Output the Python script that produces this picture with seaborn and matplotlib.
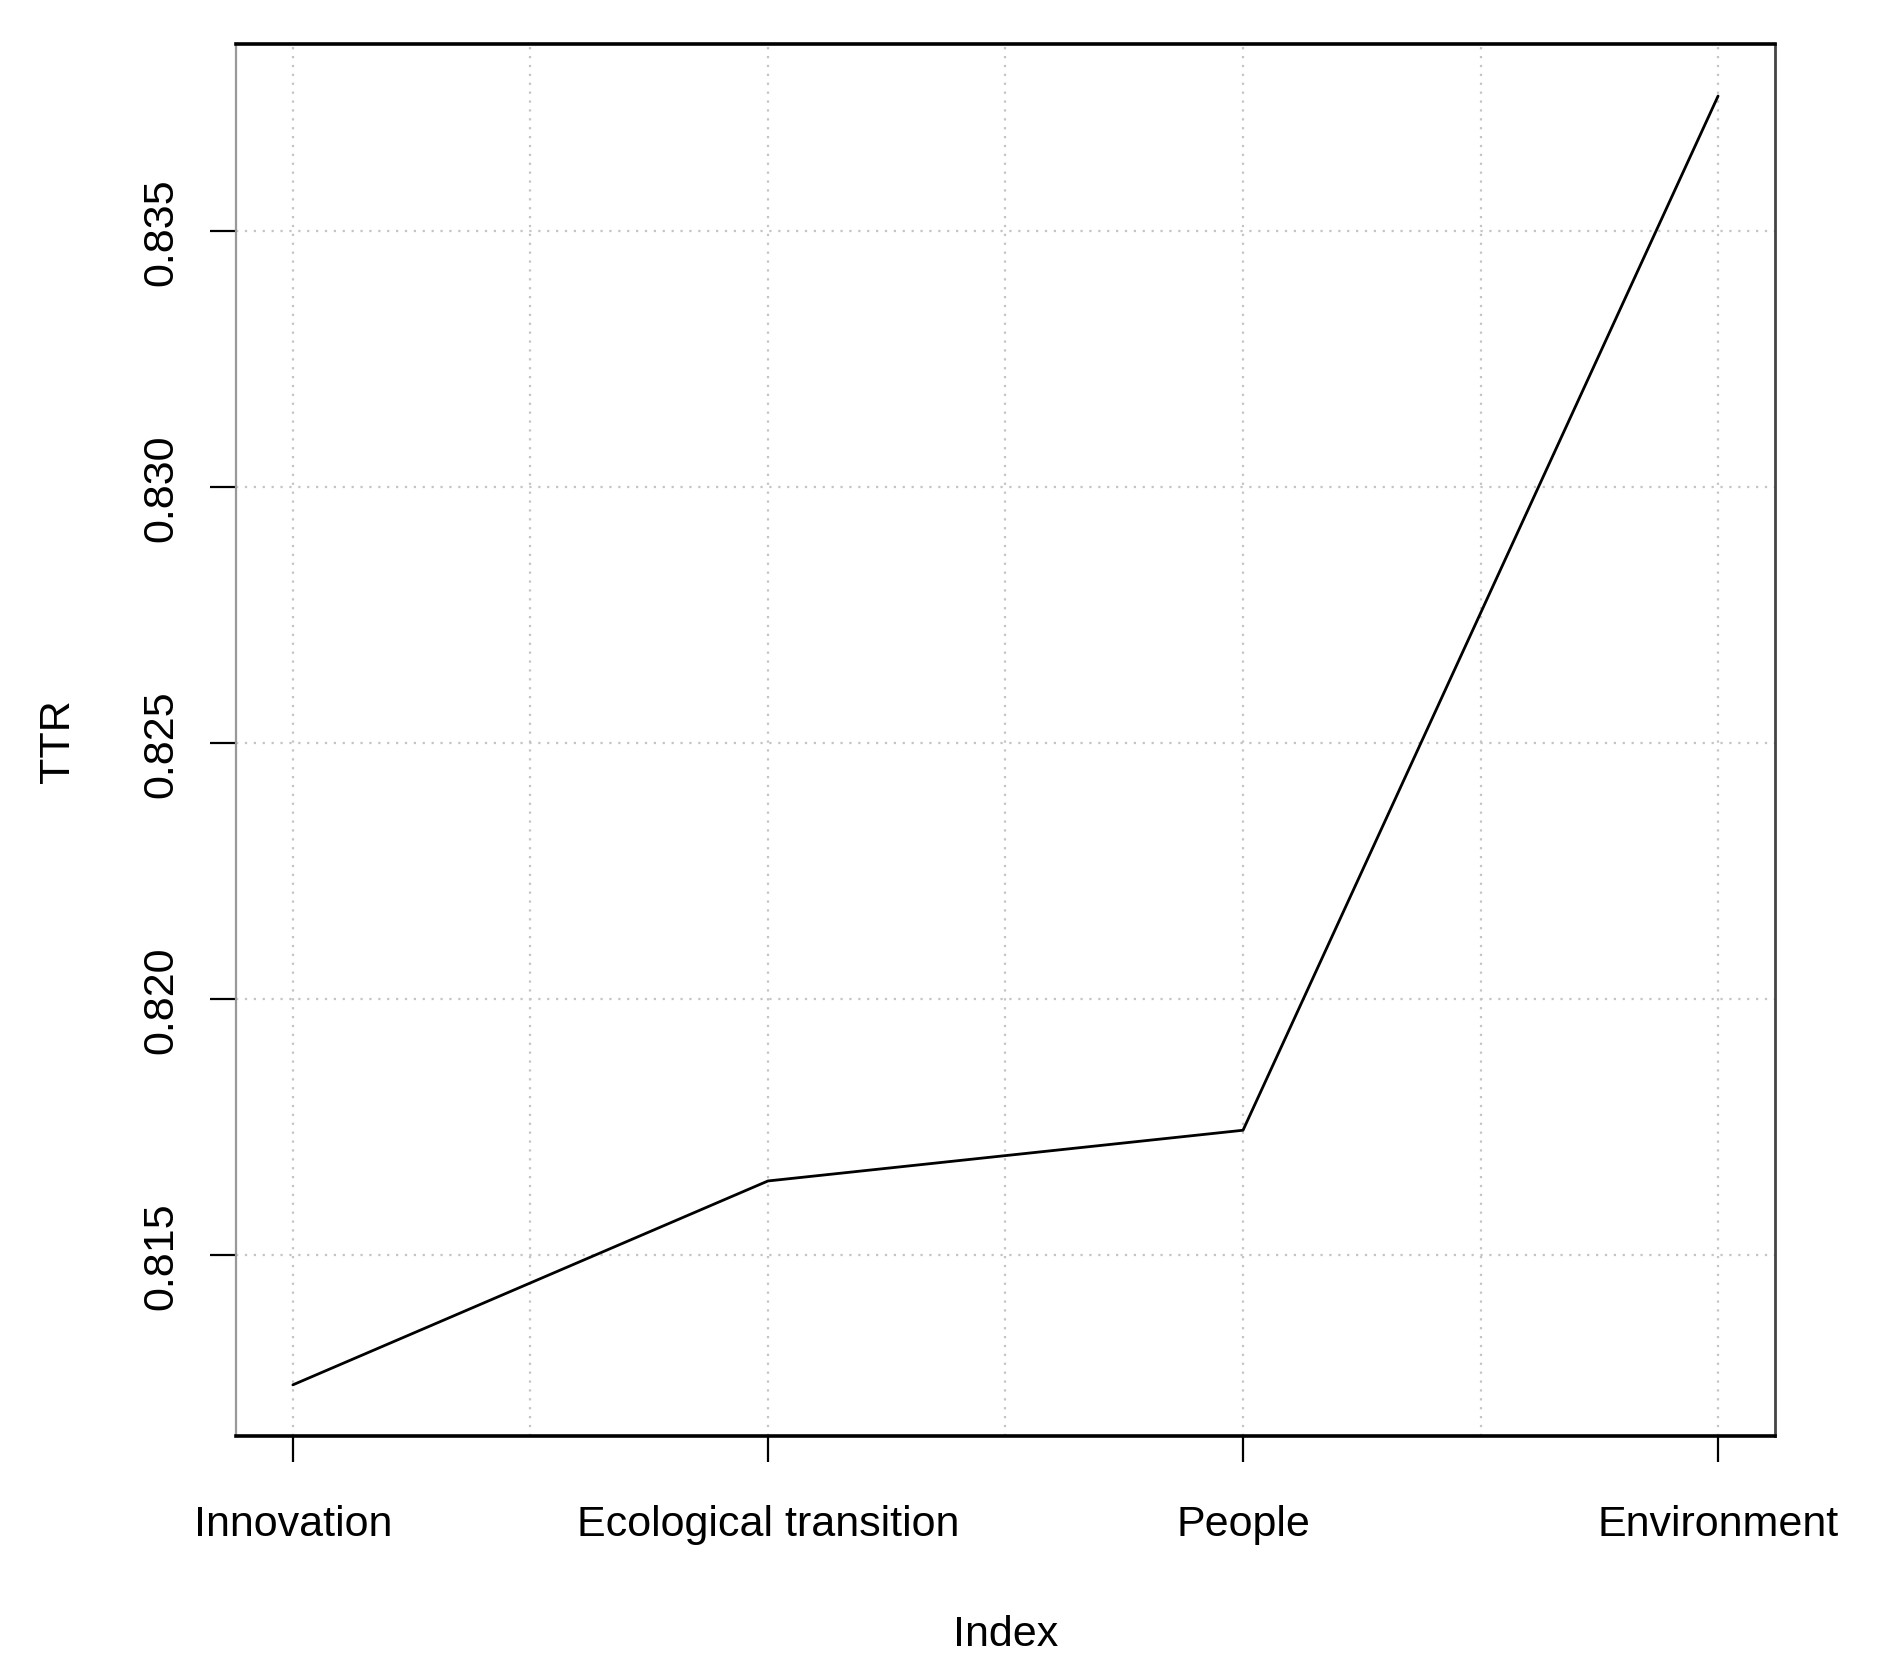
import numpy as np
import pandas as pd
import matplotlib
matplotlib.use("Agg")
import matplotlib.pyplot as plt
import seaborn as sns

categories = ["Innovation", "Ecological transition", "People", "Environment"]
ttr = [0.81247, 0.81645, 0.81744, 0.83763]
y_ticks = [0.815, 0.820, 0.825, 0.830, 0.835]

sns.set_theme(style="white")
plt.rcParams["font.family"] = ["Liberation Sans", "DejaVu Sans"]
plt.rcParams["text.color"] = "black"
plt.rcParams["axes.labelcolor"] = "black"
plt.rcParams["xtick.color"] = "black"
plt.rcParams["ytick.color"] = "black"

df = pd.DataFrame({"Index": np.arange(1, len(categories) + 1), "TTR": ttr})

fig = plt.figure(figsize=(18.78, 16.65), dpi=100)
ax = fig.add_axes([0.1256, 0.1367, 0.8196, 0.836])

# R-style dotted grid, drawn under the line
for xv in np.arange(1, len(categories) + 0.5, 0.5):
    ax.axvline(xv, color="#c4c4c4", lw=1.6, ls=(0, (1, 3)), zorder=0)
for yv in y_ticks:
    ax.axhline(yv, color="#c4c4c4", lw=1.6, ls=(0, (1, 3)), zorder=0)

sns.lineplot(data=df, x="Index", y="TTR", color="black", lw=2.0, ax=ax)

# R default 4% padding
xr = len(categories) - 1
ax.set_xlim(1 - 0.04 * xr, len(categories) + 0.04 * xr)
yr = max(ttr) - min(ttr)
ax.set_ylim(min(ttr) - 0.04 * yr, max(ttr) + 0.04 * yr)

ax.set_xticks(df["Index"])
ax.set_xticklabels(categories)
ax.set_yticks(y_ticks)
ax.set_yticklabels([f"{v:.3f}" for v in y_ticks], rotation=90, va="center")

ax.tick_params(axis="both", which="major", direction="out", length=19, width=1.6,
               color="black", labelcolor="black", labelsize=31, bottom=True, left=True)
ax.tick_params(axis="x", pad=30)
ax.tick_params(axis="y", pad=20)

ax.set_xlabel("Index", fontsize=31, labelpad=50, color="black")
ax.set_ylabel("TTR", fontsize=31, labelpad=46, color="black")

for side in ["top", "bottom"]:
    ax.spines[side].set_color("black")
    ax.spines[side].set_linewidth(2.6)
ax.spines["right"].set_color("#444444")
ax.spines["right"].set_linewidth(2.0)
ax.spines["left"].set_color("#999999")
ax.spines["left"].set_linewidth(1.6)

fig.savefig("out.png", dpi=100, facecolor="white")
